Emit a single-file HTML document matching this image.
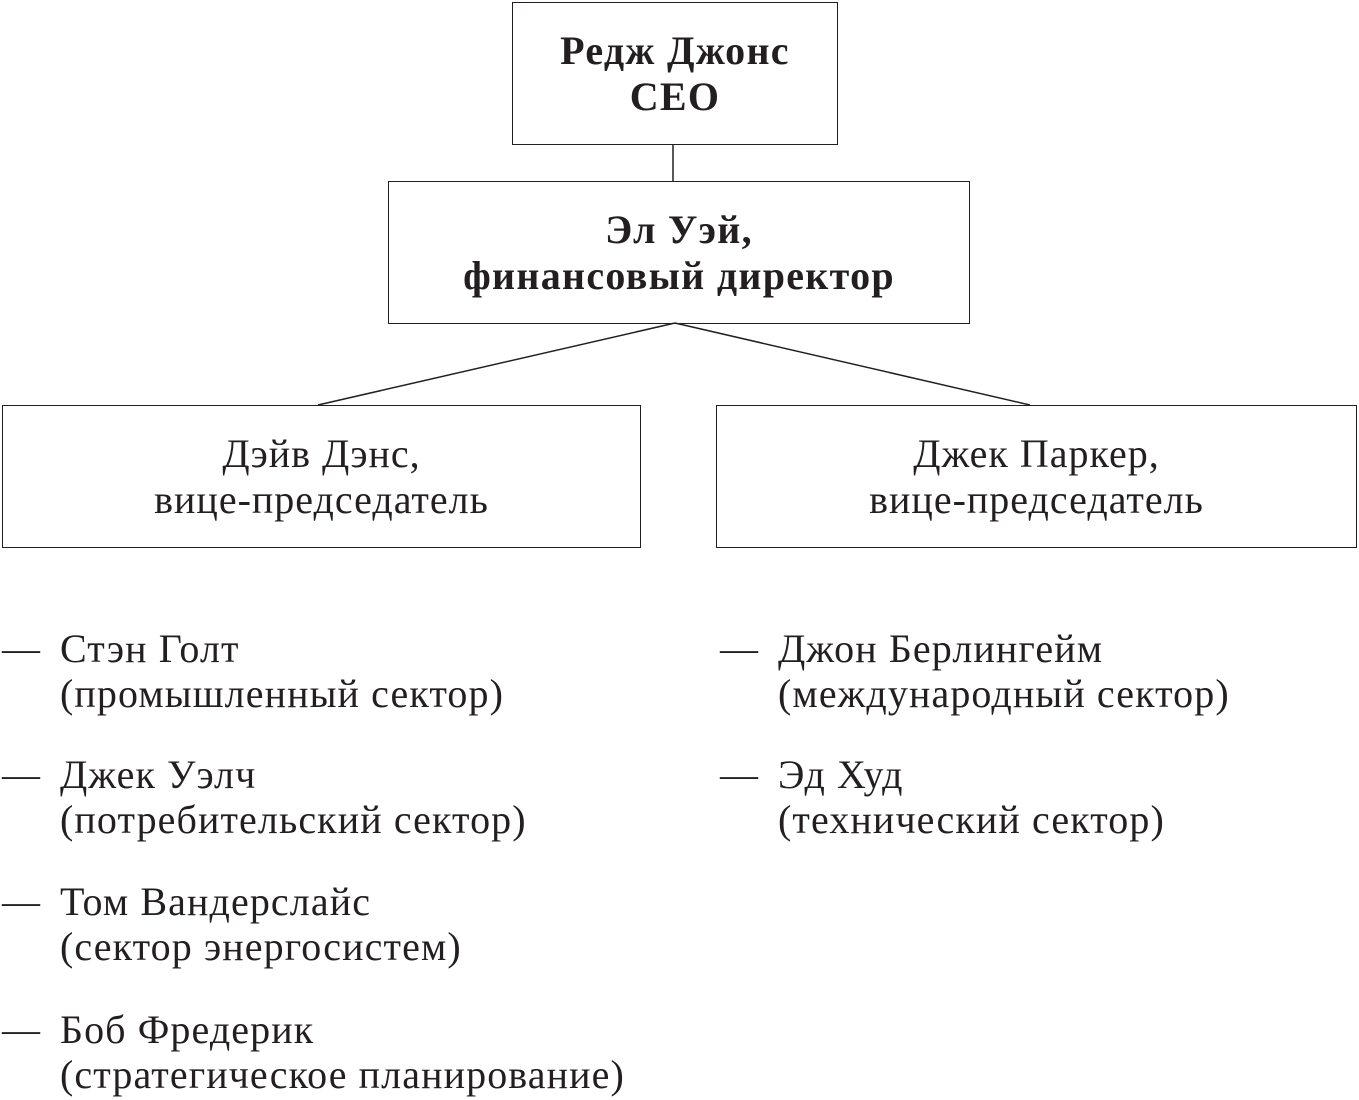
<!DOCTYPE html>
<html><head><meta charset="utf-8"><style>
body{margin:0;width:1359px;height:1100px;background:#fff;position:relative;overflow:hidden;font-family:"Liberation Serif",serif;color:#231f20}
.box{position:absolute;border:1.5px solid #231f20;box-sizing:border-box;display:flex;align-items:center;justify-content:center;text-align:center;font-size:40px;line-height:46px;letter-spacing:1px}
.b{font-weight:bold;letter-spacing:1.3px}
.t{position:absolute;font-size:40px;line-height:45px;white-space:nowrap;letter-spacing:1.1px}
.d{position:absolute;font-size:38px;line-height:45px}
svg{position:absolute;left:0;top:0}
</style></head><body>
<svg width="1359" height="1100"><g stroke="#231f20" stroke-width="1.5"><line x1="673" y1="144" x2="673" y2="182"/><line x1="675" y1="323" x2="318" y2="405"/><line x1="675" y1="323" x2="1030" y2="405"/></g></svg>
<div class="box b" style="left:512px;top:2px;width:326px;height:143px">Редж Джонс<br>CEO</div>
<div class="box b" style="left:388px;top:181px;width:582px;height:143px">Эл Уэй,<br>финансовый директор</div>
<div class="box" style="left:2px;top:405px;width:639px;height:143px">Дэйв Дэнс,<br>вице-председатель</div>
<div class="box" style="left:716px;top:405px;width:641px;height:143px">Джек Паркер,<br>вице-председатель</div>

<div class="d" style="left:2px;top:627px">—</div><div class="t" style="left:60px;top:626px">Стэн Голт<br>(промышленный сектор)</div>
<div class="d" style="left:2px;top:753px">—</div><div class="t" style="left:60px;top:752px">Джек Уэлч<br>(потребительский сектор)</div>
<div class="d" style="left:2px;top:880px">—</div><div class="t" style="left:60px;top:879px">Том Вандерслайс<br>(сектор энергосистем)</div>
<div class="d" style="left:2px;top:1008px">—</div><div class="t" style="left:60px;top:1007px">Боб Фредерик<br>(стратегическое планирование)</div>

<div class="d" style="left:720px;top:627px">—</div><div class="t" style="left:778px;top:626px">Джон Берлингейм<br>(международный сектор)</div>
<div class="d" style="left:720px;top:753px">—</div><div class="t" style="left:778px;top:752px">Эд Худ<br>(технический сектор)</div>
</body></html>
